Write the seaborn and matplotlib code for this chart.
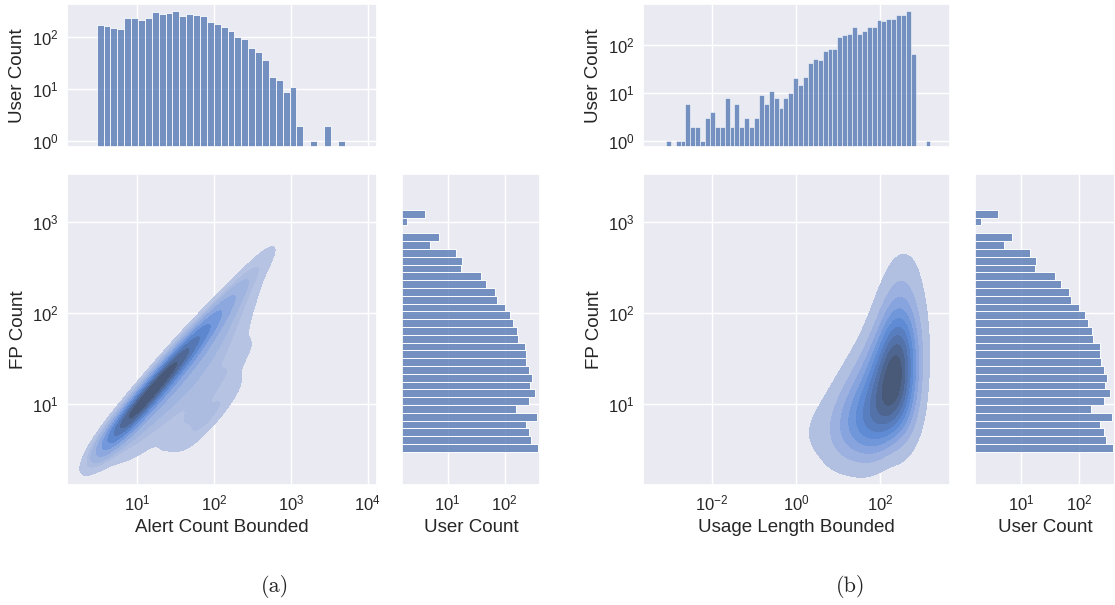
import numpy as np
import pandas as pd
import seaborn as sns
import matplotlib
matplotlib.use("Agg")
import matplotlib.pyplot as plt

# ---------------- data ----------------
# (a) top marginal: users per Alert Count Bounded bin (log bins, 3 .. 5000)
alert_bin_range = (3.0, 5000.0)
alert_counts = [172, 163, 149, 142, 236, 236, 216, 236, 307, 276, 289, 316,
                257, 276, 268, 257, 197, 183, 160, 132, 103, 93, 62, 51,
                36, 17, 15, 9, 11, 2, 0, 1, 0, 2, 0, 1]

# (b) top marginal: users per Usage Length Bounded bin (log bins)
usage_bin_range = (0.000807, 1570.0)
usage_counts = [1, 0, 1, 1, 6, 2, 2, 1, 3, 4, 2, 2, 8, 2, 6, 2, 3, 2, 3, 9,
                6, 11, 8, 5, 8, 10, 21, 15, 22, 42, 52, 50, 75, 83, 84, 150,
                160, 170, 240, 175, 200, 235, 240, 340, 320, 360, 360, 420,
                430, 530, 65, 0, 0, 1]

# right marginal (both panels): users per FP Count bin (log bins, bottom -> top)
fp_bin_range = (3.0, 1350.0)
fp_counts = [377, 288, 266, 232, 361, 158, 266, 338, 281, 296, 262, 239, 232,
             226, 171, 164, 142, 124, 100, 72, 67, 48, 38, 17, 18, 14, 5, 7,
             0, 2, 4]

# (a) joint density, representative user groups
#     (log10 Alert Count Bounded, log10 FP Count, relative weight)
a_log_alert = [0.55, 0.67, 0.79, 0.91, 1.04, 1.17, 1.30, 1.43, 1.56, 1.69,
               1.82, 1.95, 2.08, 2.21, 2.34, 2.47, 2.60, 2.73, 2.82,
               0.65, 0.90, 1.15, 1.40, 1.65, 1.90, 2.15, 2.40, 2.62,
               0.92, 1.17, 1.42, 1.67, 1.92, 2.17, 2.42,
               0.88, 1.10, 1.35, 1.60, 1.85, 2.10, 2.35,
               1.40, 1.65, 1.90, 2.15, 2.40,
               1.55, 1.80, 2.05, 2.30,
               1.70, 1.90, 2.15]
a_log_fp = [0.51, 0.63, 0.75, 0.87, 1.00, 1.13, 1.26, 1.39, 1.52, 1.65,
            1.78, 1.91, 2.04, 2.17, 2.30, 2.43, 2.56, 2.69, 2.76,
            0.48, 0.73, 0.98, 1.23, 1.48, 1.73, 1.98, 2.23, 2.45,
            0.57, 0.82, 1.07, 1.32, 1.57, 1.82, 2.07,
            0.40, 0.55, 0.80, 1.05, 1.30, 1.55, 1.80,
            0.60, 0.85, 1.10, 1.35, 1.60,
            0.62, 0.78, 0.98, 1.25,
            0.60, 0.80, 1.05]
a_weight = [1.5, 4, 6, 7, 7.5, 7.5, 7.5, 7, 6, 5,
            3.8, 2.8, 2.0, 1.4, 1.0, 0.8, 0.6, 0.4, 0.2,
            1.2, 2.2, 2.6, 2.9, 2.9, 2.4, 1.7, 1.0, 0.35,
            1.3, 1.8, 2.1, 2.2, 2.1, 1.6, 1.0,
            0.3, 0.8, 1.2, 1.6, 1.6, 1.4, 0.9,
            0.8, 1.4, 1.8, 1.6, 1.0,
            0.6, 0.9, 0.9, 0.6,
            0.7, 1.0, 0.8]

# (b) joint density (log10 Usage Length Bounded, log10 FP Count, weight)
b_log_usage = [2.35, 2.35, 2.35, 2.35, 2.35, 2.35, 2.35, 2.35,
               2.65, 2.65, 2.65, 2.65, 2.65, 2.65, 2.65,
               2.00, 2.00, 2.00, 2.00, 2.00, 2.00, 2.00,
               1.65, 1.65, 1.65, 1.65, 1.65,
               1.30, 1.30, 1.30, 1.30,
               0.95, 0.95, 0.95,
               0.55, 0.55,
               0.15, 0.15,
               -0.20]
b_log_fp = [0.80, 1.05, 1.30, 1.55, 1.80, 2.05, 2.30, 2.55,
            0.65, 0.95, 1.25, 1.55, 1.85, 2.15, 2.45,
            0.60, 0.85, 1.10, 1.35, 1.60, 1.85, 2.10,
            0.60, 0.85, 1.10, 1.35, 1.60,
            0.60, 0.85, 1.10, 1.35,
            0.60, 0.85, 1.10,
            0.65, 0.90,
            0.65, 0.85,
            0.60]
b_weight = [4, 6.5, 7.5, 7, 4.5, 2.5, 1.2, 0.6,
            2, 3.5, 4.5, 4, 2.5, 1.2, 0.6,
            3, 4.5, 5, 4, 2.5, 1.3, 0.5,
            3, 4, 3, 1.8, 0.9,
            2.2, 2.8, 1.7, 0.8,
            1.4, 1.4, 0.7,
            0.8, 0.5,
            0.4, 0.2,
            0.15]

# ---------------- styling ----------------
sns.set_theme(style="darkgrid")
plt.rcParams["font.family"] = ["Liberation Sans", "DejaVu Sans"]
plt.rcParams["mathtext.fontset"] = "custom"
plt.rcParams["mathtext.rm"] = "Liberation Sans"
plt.rcParams["mathtext.it"] = "Liberation Sans:italic"
plt.rcParams["mathtext.bf"] = "Liberation Sans:bold"
LABEL_FS = 13.5
TICK_FS = 12
BLUE = "#4c72b0"

W, H = 1115, 605
fig = plt.figure(figsize=(W / 100, H / 100), dpi=100)


def ax_px(x0, y0, x1, y1):
    return fig.add_axes([x0 / W, 1 - y1 / H, (x1 - x0) / W, (y1 - y0) / H])


def bin_centers(rng, n):
    lo, hi = np.log10(rng[0]), np.log10(rng[1])
    e = np.linspace(lo, hi, n + 1)
    return 10 ** ((e[:-1] + e[1:]) / 2)


def panel(x0, x1, rx0, rx1, jx, jy, jw, xlabel, xlim, xticks,
          top_counts, top_range, top_ylim, bw):
    ax_top = ax_px(x0, 4, x1, 147)
    ax_main = ax_px(x0, 174, x1, 485)
    ax_right = ax_px(rx0, 174, rx1, 485)

    # top marginal histogram
    tdf = pd.DataFrame({"x": bin_centers(top_range, len(top_counts)),
                        "w": top_counts})
    sns.histplot(data=tdf, x="x", weights="w", bins=len(top_counts),
                 binrange=(np.log10(top_range[0]), np.log10(top_range[1])),
                 log_scale=(True, False), ax=ax_top, color=BLUE)
    ax_top.set_yscale("log")
    ax_top.set_xlim(*xlim)
    ax_top.set_ylim(*top_ylim)
    ax_top.set_xticks(xticks)
    ax_top.set_xticklabels([])
    ax_top.set_yticks([1, 10, 100])
    ax_top.set_xlabel("")
    ax_top.set_ylabel("User Count", fontsize=LABEL_FS)

    # joint KDE
    jdf = pd.DataFrame({"x": 10 ** np.asarray(jx), "y": 10 ** np.asarray(jy),
                        "w": jw})
    sns.kdeplot(data=jdf, x="x", y="y", weights="w", fill=True,
                log_scale=True, ax=ax_main, color=BLUE, bw_adjust=bw)
    ax_main.set_xlim(*xlim)
    ax_main.set_ylim(10 ** 0.113, 10 ** 3.524)
    ax_main.set_xticks(xticks)
    ax_main.set_yticks([10, 100, 1000])
    ax_main.set_xlabel(xlabel, fontsize=LABEL_FS)
    ax_main.set_ylabel("FP Count", fontsize=LABEL_FS)

    # right marginal histogram
    rdf = pd.DataFrame({"y": bin_centers(fp_bin_range, len(fp_counts)),
                        "w": fp_counts})
    sns.histplot(data=rdf, y="y", weights="w", bins=len(fp_counts),
                 binrange=(np.log10(fp_bin_range[0]), np.log10(fp_bin_range[1])),
                 log_scale=(False, True), ax=ax_right, color=BLUE)
    ax_right.set_xscale("log")
    ax_right.set_ylim(10 ** 0.113, 10 ** 3.524)
    ax_right.set_xlim(10 ** 0.205, 10 ** 2.616)
    ax_right.set_yticks([10, 100, 1000])
    ax_right.set_yticklabels([])
    ax_right.set_xticks([10, 100])
    ax_right.set_ylabel("")
    ax_right.set_xlabel("User Count", fontsize=LABEL_FS)

    for a in (ax_top, ax_main, ax_right):
        a.tick_params(labelsize=TICK_FS, length=0, pad=6)
        a.minorticks_off()


panel(67, 377, 402, 540, a_log_alert, a_log_fp, a_weight, "Alert Count Bounded",
      (10 ** 0.091, 10 ** 4.12), [10, 100, 1000, 10000],
      alert_counts, alert_bin_range, (10 ** -0.11, 10 ** 2.64), 0.72)
panel(643, 950, 975, 1115, b_log_usage, b_log_fp, b_weight, "Usage Length Bounded",
      (10 ** -3.636, 10 ** 3.66), [0.01, 1, 100],
      usage_counts, usage_bin_range, (10 ** -0.12, 10 ** 2.86), 0.9)

fig.text(275 / W, 1 - 587 / H, "(a)", family="cmr10", fontsize=16,
         ha="center", va="center")
fig.text(851 / W, 1 - 587 / H, "(b)", family="cmr10", fontsize=16,
         ha="center", va="center")

fig.savefig("out.png", dpi=100)
